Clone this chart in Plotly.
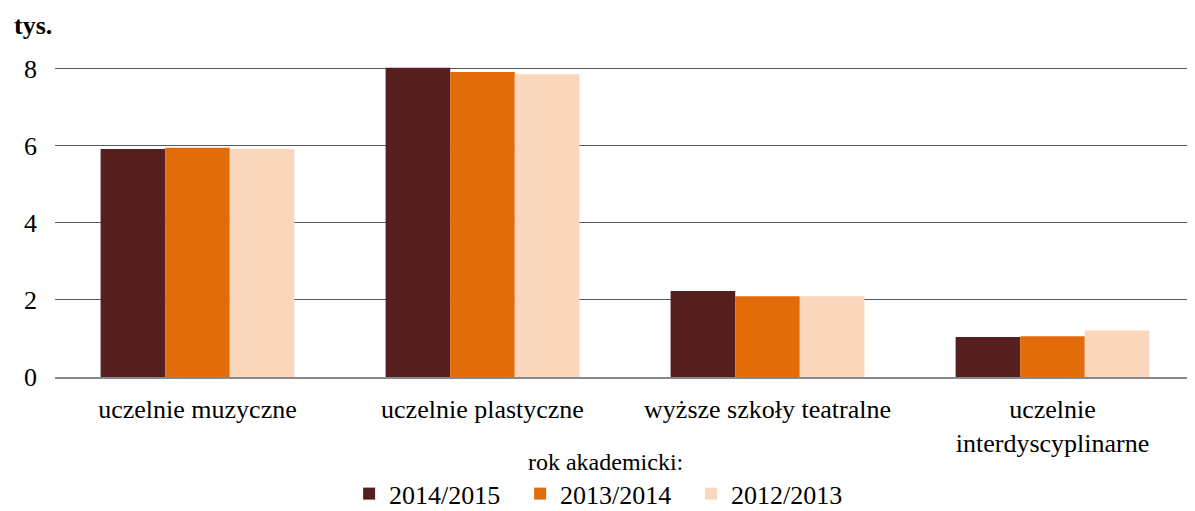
import plotly.graph_objects as go

categories = ["uczelnie muzyczne", "uczelnie plastyczne", "wyższe szkoły teatralne", "uczelnie<br>interdyscyplinarne"]
series_names = ["2014/2015", "2013/2014", "2012/2013"]
v_2014_2015 = [5.92, 8.03, 2.23, 1.04]
v_2013_2014 = [5.95, 7.92, 2.10, 1.06]
v_2012_2013 = [5.92, 7.86, 2.10, 1.21]
colors = ["#561f1f", "#e36c0a", "#fad7bc"]
y_ticks = [0, 2, 4, 6, 8]

FONT = "Liberation Serif"

fig = go.Figure()
for name, vals, col in zip(series_names, [v_2014_2015, v_2013_2014, v_2012_2013], colors):
    fig.add_trace(go.Bar(x=categories, y=vals, name=name, marker=dict(color=col, line=dict(width=0))))

fig.update_layout(
    width=1187, height=503,
    margin=dict(l=47, r=0, t=59, b=134, autoexpand=False),
    paper_bgcolor="white", plot_bgcolor="white",
    font=dict(family=FONT, size=26, color="#000000"),
    barmode="group", bargap=0.32, bargroupgap=0,
    showlegend=True,
    legend=dict(
        orientation="h", x=0.483, xanchor="center", y=-0.2, yanchor="top",
        title=dict(text="rok akademicki:", side="top center", font=dict(family=FONT, size=24)),
        font=dict(family=FONT, size=26), itemwidth=30, tracegroupgap=0,
        entrywidth=126,
    ),
    annotations=[dict(text="<b>tys.</b>", xref="paper", yref="paper", x=-0.038, y=1.135,
                      xanchor="left", yanchor="middle", showarrow=False,
                      font=dict(family=FONT, size=26))],
)
fig.update_xaxes(showline=True, linecolor="#898989", linewidth=1.5, ticks="", showgrid=False,
                 tickfont=dict(family=FONT, size=26), ticklabelstandoff=8, automargin=False)
fig.update_yaxes(range=[0, 8.05], tickvals=y_ticks, showgrid=True, gridcolor="#595959", gridwidth=1,
                 zeroline=False, showline=False, ticks="", tickfont=dict(family=FONT, size=26),
                 ticklabelstandoff=17, automargin=False)

fig.write_html("out.html")
